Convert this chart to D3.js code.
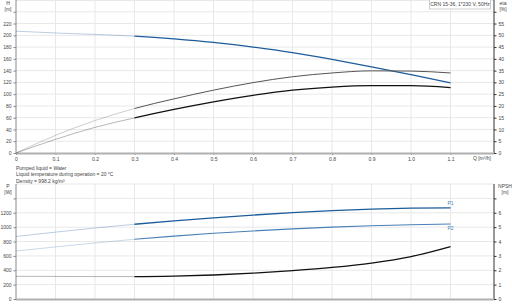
<!DOCTYPE html>
<html>
<head>
<meta charset="utf-8">
<script src="https://cdn.jsdelivr.net/npm/d3@7"></script>
<style>
  body { margin: 0; background: #fff; }
  svg { display: block; font-family: "Liberation Sans", Arial, sans-serif; }
  .tick text { fill: #444; font-size: 5px; }
</style>
</head>
<body>
<div id="chart"></div>
<script>
// flow points [m3/h]
const flowQ = [0, 0.1, 0.2, 0.3, 0.4, 0.5, 0.6, 0.7, 0.8, 0.9, 1.0, 1.1];
// head [m]
const headH = [207, 204, 201.5, 198.5, 194, 188, 180, 170.5, 159, 146.5, 133, 119];
// efficiencies [%]
const etaUpper = [0, 7.5, 13.8, 18.9, 23.0, 26.7, 29.9, 32.4, 34.0, 34.9, 34.8, 34.0];
const etaLower = [0, 5.8, 10.9, 14.9, 18.5, 21.7, 24.5, 26.7, 28.0, 28.6, 28.6, 27.8];
// power [W]
const powerP1 = [870, 930, 988, 1040, 1087, 1130, 1168, 1201, 1229, 1250, 1263, 1268];
const powerP2 = [667, 725, 780, 831, 875, 914, 947, 976, 1000, 1019, 1033, 1043];
// NPSH [m]
const npsh = [1.58, 1.57, 1.56, 1.56, 1.59, 1.67, 1.8, 1.98, 2.2, 2.5, 2.95, 3.65];

const qTicks = [0, 0.1, 0.2, 0.3, 0.4, 0.5, 0.6, 0.7, 0.8, 0.9, 1.0, 1.1];
const hTicks = [0, 20, 40, 60, 80, 100, 120, 140, 160, 180, 200, 220, 240];
const etaTicks = [0, 5, 10, 15, 20, 25, 30, 35, 40, 45, 50, 55, 60];
const pTicks = [0, 200, 400, 600, 800, 1000, 1200, 1400];
const npshTicks = [0, 1, 2, 3, 4, 5, 6, 7];
const infoLines = ['Pumped liquid = Water', 'Liquid temperature during operation = 20 °C', 'Density = 998.2 kg/m³'];
const legendText = 'CRN 15-36, 1*230 V, 50Hz';
const qStart = 0.3; // below this the curves are drawn faded

const W = 512, H = 308;
const left = 16, right = 494;

const svg = d3.select('#chart').append('svg')
  .attr('width', W)
  .attr('height', H);

const x = d3.scaleLinear().domain([0, 1.21]).range([left, right]);

// top chart scales
const yH = d3.scaleLinear().domain([0, 260]).range([153, 0]);
const yEta = d3.scaleLinear().domain([0, 65]).range([153, 0]);
// bottom chart scales
const yP = d3.scaleLinear().domain([0, 1600]).range([299, 184]);
const yN = d3.scaleLinear().domain([0, 8]).range([299, 184]);

// clip regions for faded / solid part of the curves
const defs = svg.append('defs');
defs.append('clipPath').attr('id', 'clipFaded')
  .append('rect').attr('x', 0).attr('y', 0).attr('width', x(qStart)).attr('height', H);
defs.append('clipPath').attr('id', 'clipSolid')
  .append('rect').attr('x', x(qStart)).attr('y', 0).attr('width', W - x(qStart)).attr('height', H);

function grid(yScale, ticks, top, bottom) {
  const g = svg.append('g');
  g.selectAll('line.h')
    .data(ticks.filter(d => d > 0))
    .enter().append('line')
    .attr('x1', left).attr('x2', right)
    .attr('y1', d => yScale(d)).attr('y2', d => yScale(d))
    .attr('stroke', '#e8e8e8').attr('stroke-width', 1);
  g.selectAll('line.v')
    .data(qTicks.filter(d => d > 0))
    .enter().append('line')
    .attr('x1', d => x(d)).attr('x2', d => x(d))
    .attr('y1', top).attr('y2', bottom)
    .attr('stroke', '#e8e8e8').attr('stroke-width', 1);
}

grid(yH, hTicks, 0, 153);
svg.append('line').attr('x1', left).attr('x2', right).attr('y1', 0.5).attr('y2', 0.5)
  .attr('stroke', '#e8e8e8');
grid(yP, pTicks.concat([1600]), 184, 299);

function styleAxis(g, color) {
  g.select('.domain').attr('stroke', color);
  g.selectAll('.tick line').attr('stroke', color);
}

function axisLeft(yScale, ticks, labelMax) {
  const g = svg.append('g')
    .attr('transform', `translate(${left},0)`)
    .call(d3.axisLeft(yScale).tickValues(ticks).tickSize(2.5).tickPadding(2)
      .tickFormat(d => d <= labelMax ? d : ''));
  styleAxis(g, '#888');
  return g;
}

function axisRight(yScale, ticks, labelMax) {
  const g = svg.append('g')
    .attr('transform', `translate(${right},0)`)
    .call(d3.axisRight(yScale).tickValues(ticks).tickSize(2.5).tickPadding(2)
      .tickFormat(d => d <= labelMax ? d : ''));
  styleAxis(g, '#333');
  return g;
}

axisLeft(yH, hTicks, 220);
axisRight(yEta, etaTicks, 55);
axisLeft(yP, pTicks, 1200);
axisRight(yN, npshTicks, 6);

// clip the axis lines to plot heights
svg.selectAll('.domain').remove();
[[left, 0, 153, '#888'], [right, 0, 153, '#333'], [left, 184, 299, '#888'], [right, 184, 299, '#333']]
  .forEach(([lx, y1, y2, c]) => {
    svg.append('line').attr('x1', lx).attr('x2', lx).attr('y1', y1).attr('y2', y2)
      .attr('stroke', c).attr('stroke-width', 1);
  });

// bottom axis of top chart
const xAxis = svg.append('g')
  .attr('transform', 'translate(0,153)')
  .call(d3.axisBottom(x).tickValues(qTicks).tickSize(2).tickPadding(2)
    .tickFormat(d => d === 0 ? '0' : d3.format('.1f')(d)));
xAxis.select('.domain').remove();
xAxis.selectAll('.tick line').attr('stroke', '#888');
svg.append('line').attr('x1', left).attr('x2', right).attr('y1', 153.5).attr('y2', 153.5)
  .attr('stroke', '#b0b0b0').attr('stroke-width', 2);
svg.append('line').attr('x1', left).attr('x2', right).attr('y1', 299.5).attr('y2', 299.5)
  .attr('stroke', '#b0b0b0').attr('stroke-width', 2);

// axis titles
function label(tx, ty, txt, anchor) {
  svg.append('text')
    .attr('x', tx).attr('y', ty)
    .attr('text-anchor', anchor || 'middle')
    .attr('fill', '#444')
    .style('font-size', '5px')
    .text(txt);
}
label(8, 4.5, 'H');
label(8, 10.5, '[m]');
label(503, 4.5, 'eta');
label(503, 10.5, '[%]');
label(8, 188, 'P');
label(8, 194, '[W]');
label(505, 188, 'NPSH');
label(505, 194, '[m]');
label(491, 160, 'Q [m³/h]', 'end');

// legend box
svg.append('rect')
  .attr('x', 429.5).attr('y', -0.5).attr('width', 61).attr('height', 9.5)
  .attr('fill', '#fff').attr('stroke', '#ccc').attr('stroke-width', 1);
label(460, 6, legendText);

// info text
infoLines.forEach((t, i) => {
  label(16, 169.5 + i * 6.5, t, 'start');
});

// curves: one smooth path, drawn faded below qStart and solid above
function curve(values, yScale, color, width) {
  const pts = flowQ.map((q, i) => [q, values[i]]);
  const line = d3.line()
    .x(d => x(d[0])).y(d => yScale(d[1]))
    .curve(d3.curveMonotoneX);
  svg.append('path')
    .datum(pts)
    .attr('d', line)
    .attr('clip-path', 'url(#clipFaded)')
    .attr('fill', 'none')
    .attr('stroke', color)
    .attr('stroke-opacity', 0.3)
    .attr('stroke-width', 1);
  svg.append('path')
    .datum(pts)
    .attr('d', line)
    .attr('clip-path', 'url(#clipSolid)')
    .attr('fill', 'none')
    .attr('stroke', color)
    .attr('stroke-width', width);
}

curve(headH, yH, '#1d5c9a', 1.3);
curve(etaUpper, yEta, '#555', 1);
curve(etaLower, yEta, '#111', 1.3);
curve(powerP1, yP, '#1d5c9a', 1.3);
curve(powerP2, yP, '#4a80b8', 1.1);
curve(npsh, yN, '#111', 1.3);

svg.append('text')
  .attr('x', x(1.1)).attr('y', yP(powerP1[powerP1.length - 1]) - 3)
  .attr('text-anchor', 'middle').attr('fill', '#4a80b8')
  .style('font-size', '5px').text('P1');
svg.append('text')
  .attr('x', x(1.1)).attr('y', yP(powerP2[powerP2.length - 1]) + 5.5)
  .attr('text-anchor', 'middle').attr('fill', '#4a80b8')
  .style('font-size', '5px').text('P2');
</script>
</body>
</html>
